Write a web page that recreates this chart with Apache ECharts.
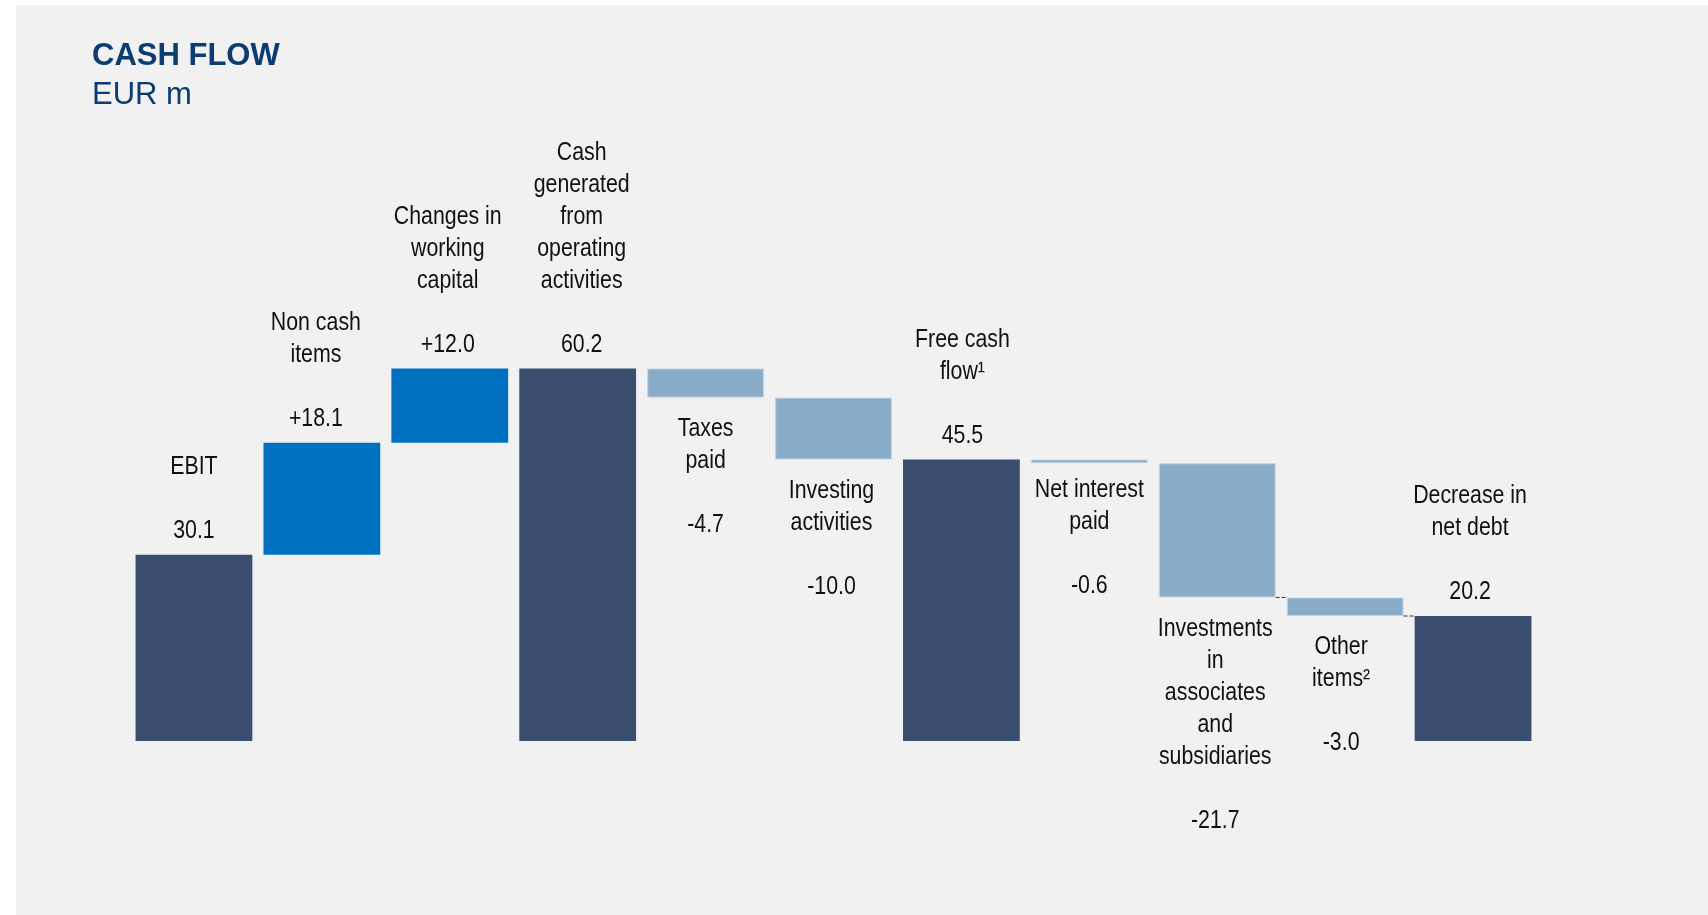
<!DOCTYPE html>
<html>
<head>
<meta charset="utf-8">
<title>Cash flow</title>
<script src="https://cdn.jsdelivr.net/npm/echarts@6/dist/echarts.min.js"></script>
<style>
  html, body { margin: 0; padding: 0; background: #ffffff; }
  #panel { position: absolute; left: 16px; top: 5px; width: 1692px; height: 910px; background: #f1f1f1; }
  #chart { position: absolute; left: 0; top: 0; width: 1708px; height: 915px; }
</style>
</head>
<body>
<div id="panel"></div>
<div id="chart"></div>
<script>
// Waterfall steps, in EUR m
const categories = [
  'EBIT', 'Non cash items', 'Changes in working capital',
  'Cash generated from operating activities', 'Taxes paid', 'Investing activities',
  'Free cash flow', 'Net interest paid', 'Investments in associates and subsidiaries',
  'Other items', 'Decrease in net debt'
];
// Label lines drawn above / below each bar
const labelLines = [
  ['EBIT'],
  ['Non cash', 'items'],
  ['Changes in', 'working', 'capital'],
  ['Cash', 'generated', 'from', 'operating', 'activities'],
  ['Taxes', 'paid'],
  ['Investing', 'activities'],
  ['Free cash', 'flow¹'],
  ['Net interest', 'paid'],
  ['Investments', 'in', 'associates', 'and', 'subsidiaries'],
  ['Other', 'items²'],
  ['Decrease in', 'net debt']
];
// 'total' bars start at zero; 'delta' bars move the running total
const kinds = ['total', 'delta', 'delta', 'total', 'delta', 'delta', 'total', 'delta', 'delta', 'delta', 'total'];
const values = [30.1, 18.1, 12.0, 60.2, -4.7, -10.0, 45.5, -0.6, -21.7, -3.0, 20.2];
// Dashed connectors are drawn after these bar indices
const connectorAfter = [8, 9];

// Layout: small hand offsets [dx, dy] in px for individual label blocks
const labelNudge = [
  [0, 0], [-6, 0], [-2, 0], [4, 0], [0, 0], [-2, 0],
  [1, 0], [0, -4], [-2, 0], [-4, 0], [-3, 0]
];

const COLORS = { total: '#3a4e6f', up: '#0070c0', down: '#89acc9' };
const FONT_FAMILY = "'Liberation Sans', Arial, sans-serif";
const GAP = 0.087;

// Build invisible bases and visible segments for the stacked waterfall
const baseData = [];
const barData = [];
const labelData = [];
const labelTexts = [];
const levels = [];
let running = 0;
values.forEach((v, i) => {
  let base, type;
  if (kinds[i] === 'total') {
    base = 0; running = v; type = 'total';
  } else if (v >= 0) {
    base = running; running += v; type = 'up';
  } else {
    running += v; base = running; type = 'down';
  }
  levels.push(running);
  const b = +base.toFixed(2);
  const h = +Math.abs(v).toFixed(2);
  baseData.push(b);
  barData.push({
    value: h,
    itemStyle: type === 'down'
      ? { color: COLORS.down, borderColor: '#c3d4e3', borderWidth: 1 }
      : { color: COLORS[type] }
  });
  const valText = kinds[i] === 'total' ? v.toFixed(1) : (v > 0 ? '+' : '') + v.toFixed(1);
  labelTexts.push(labelLines[i].concat(['', valText]).join('\n'));
  // [category, bottom, top, 1 = label above / 0 = label below]
  labelData.push([i, b, +(b + h).toFixed(2), type === 'down' ? 0 : 1]);
});

const connectorData = connectorAfter.map(i => [i, +levels[i].toFixed(2)]);

const chart = echarts.init(document.getElementById('chart'));
chart.setOption({
  backgroundColor: 'transparent',
  animation: false,
  title: {
    text: 'CASH FLOW',
    subtext: 'EUR m',
    left: 87,
    top: 36,
    itemGap: 8,
    textStyle: { fontFamily: FONT_FAMILY, fontSize: 31, fontWeight: 'bold', color: '#0b3c72' },
    subtextStyle: { fontFamily: FONT_FAMILY, fontSize: 31, color: '#0b3c72' }
  },
  grid: { left: 130, right: 171, top: 246, bottom: 174 },
  xAxis: {
    type: 'category',
    data: categories,
    axisLine: { show: false },
    axisTick: { show: false },
    axisLabel: { show: false }
  },
  yAxis: {
    type: 'value',
    min: 0,
    max: 80,
    show: false,
    splitLine: { show: false }
  },
  series: [
    {
      name: 'base',
      type: 'bar',
      stack: 'wf',
      data: baseData,
      itemStyle: { color: 'transparent' },
      barCategoryGap: (GAP * 100) + '%',
      silent: true
    },
    {
      name: 'amount',
      type: 'bar',
      stack: 'wf',
      data: barData,
      barCategoryGap: (GAP * 100) + '%'
    },
    {
      // condensed label text above or below each bar
      name: 'labels',
      type: 'custom',
      data: labelData,
      silent: true,
      z: 4,
      renderItem: function (params, api) {
        const i = params.dataIndex;
        const above = api.value(3) === 1;
        const bottom = api.coord([api.value(0), api.value(1)]);
        const top = api.coord([api.value(0), api.value(2)]);
        const nudge = labelNudge[i];
        return {
          type: 'text',
          x: top[0] + nudge[0],
          y: (above ? top[1] - 8 : bottom[1] + 15) + nudge[1],
          scaleX: 0.82,
          style: {
            text: labelTexts[i],
            fontFamily: FONT_FAMILY,
            fontSize: 26,
            lineHeight: 32,
            fill: '#111111',
            align: 'center',
            verticalAlign: above ? 'bottom' : 'top'
          }
        };
      }
    },
    {
      name: 'connector',
      type: 'custom',
      data: connectorData,
      silent: true,
      z: 3,
      renderItem: function (params, api) {
        const p = api.coord([api.value(0), api.value(1)]);
        const band = api.size([1, 0])[0];
        const half = band * (1 - GAP) / 2;
        return {
          type: 'line',
          shape: { x1: p[0] + half, y1: p[1], x2: p[0] + band - half, y2: p[1] },
          style: { stroke: '#333333', lineWidth: 1, lineDash: [4, 2] }
        };
      }
    }
  ]
});
</script>
</body>
</html>
